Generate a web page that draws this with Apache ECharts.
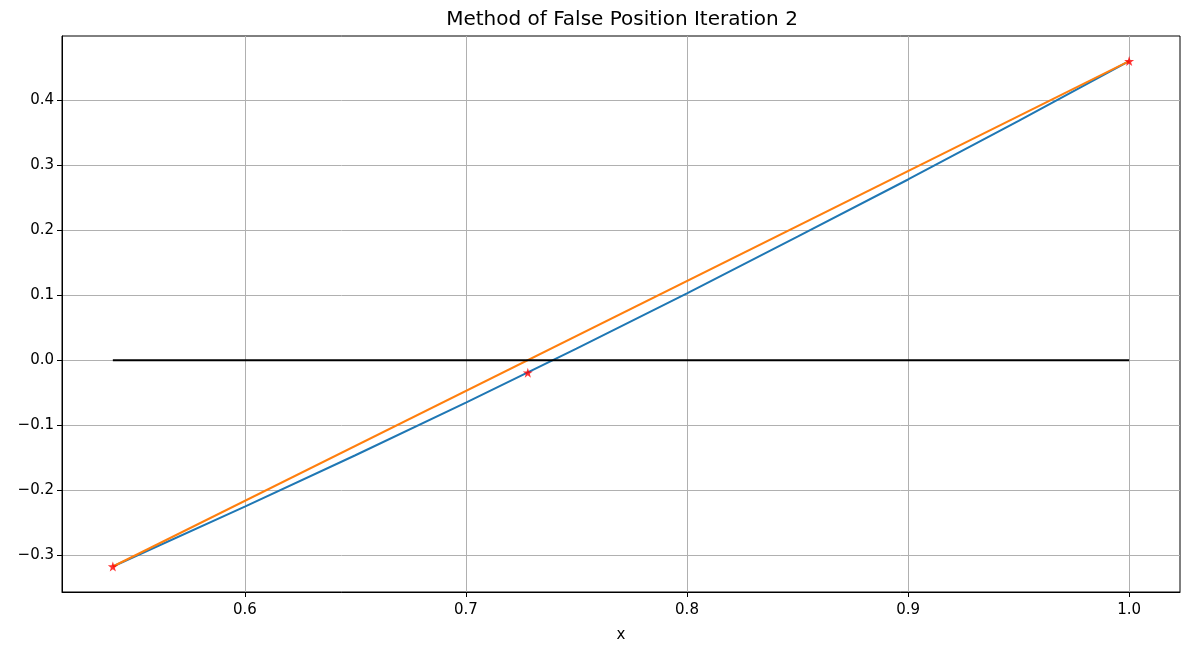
<!DOCTYPE html>
<html>
<head>
<meta charset="utf-8">
<script src="https://cdn.jsdelivr.net/npm/echarts@6/dist/echarts.min.js"></script>
<style>html,body{margin:0;padding:0;background:#fff}#c{width:1182px;height:648px}</style>
</head>
<body>
<div id="c"></div>
<script>
// Data
const curveX = [0.5403, 0.6, 0.65, 0.7, 0.75, 0.8, 0.85, 0.9, 0.95, 1.0];
const curveY = [-0.317, -0.225, -0.146, -0.065, 0.018, 0.103, 0.190, 0.278, 0.368, 0.460];
const secantX = [0.5403, 1.0];
const secantY = [-0.317, 0.460];
const zeroX = [0.5403, 1.0];
const zeroY = [0, 0];
const pointsX = [0.5403, 0.728, 1.0];
const pointsY = [-0.317, -0.019, 0.460];
const xTicks = [0.6, 0.7, 0.8, 0.9, 1.0];
const yTicks = [-0.3, -0.2, -0.1, 0.0, 0.1, 0.2, 0.3, 0.4];
const titleText = 'Method of False Position Iteration 2';
const xName = 'x';

const zip = (a, b) => a.map((v, i) => [v, b[i]]);
const FONT = 'DejaVu Sans';
const star = 'path://M50,0 L61.8,35.3 L99,35.5 L69,57.5 L80.3,93 L50,71.5 L19.7,93 L31,57.5 L1,35.5 L38.2,35.3 Z';
const fmt = v => { const s = (Math.round(v * 10) / 10).toFixed(1); return s.replace('-', '\u2212'); };

const chart = echarts.init(document.getElementById('c'), null, {renderer: 'canvas'});
chart.setOption({
  animation: false,
  backgroundColor: '#fff',
  grid: {left: 62, right: 2, top: 36, bottom: 55, show: true, borderColor: '#000', borderWidth: 1, backgroundColor: 'transparent'},
  graphic: [{
    type: 'text', x: 622, y: 20,
    style: {text: titleText, font: '20px "' + FONT + '"', fill: '#000', textAlign: 'center', textVerticalAlign: 'middle'}
  }],
  xAxis: {
    type: 'value', min: 0.5173, max: 1.023,
    name: xName, nameLocation: 'middle', nameGap: 36,
    nameTextStyle: {fontFamily: FONT, fontSize: 15, color: '#000'},
    axisLine: {show: true, onZero: false, lineStyle: {color: '#000', width: 1}},
    axisTick: {show: true, length: 5, lineStyle: {color: '#000'}, customValues: xTicks},
    axisLabel: {customValues: xTicks, formatter: fmt, fontFamily: FONT, fontSize: 15, color: '#000', margin: 11},
    splitLine: {show: true, lineStyle: {color: '#b0b0b0', width: 1}}
  },
  yAxis: {
    type: 'value', min: -0.3562, max: 0.4986,
    axisLine: {show: true, onZero: false, lineStyle: {color: '#000', width: 1}},
    axisTick: {show: true, length: 5, lineStyle: {color: '#000'}, customValues: yTicks},
    axisLabel: {customValues: yTicks, formatter: fmt, fontFamily: FONT, fontSize: 15, color: '#000', margin: 8},
    splitLine: {show: true, lineStyle: {color: '#b0b0b0', width: 1}}
  },
  series: [
    {type: 'line', data: zip(curveX, curveY), showSymbol: false, lineStyle: {color: '#1f77b4', width: 2}, z: 2},
    {type: 'line', data: zip(secantX, secantY), showSymbol: false, lineStyle: {color: '#ff7f0e', width: 2}, z: 3},
    {type: 'line', data: zip(zeroX, zeroY), showSymbol: false, lineStyle: {color: '#000', width: 2}, z: 4},
    {type: 'scatter', data: zip(pointsX, pointsY), symbol: star, symbolSize: 10, itemStyle: {color: '#ff0000'}, z: 5}
  ]
});
</script>
</body>
</html>
